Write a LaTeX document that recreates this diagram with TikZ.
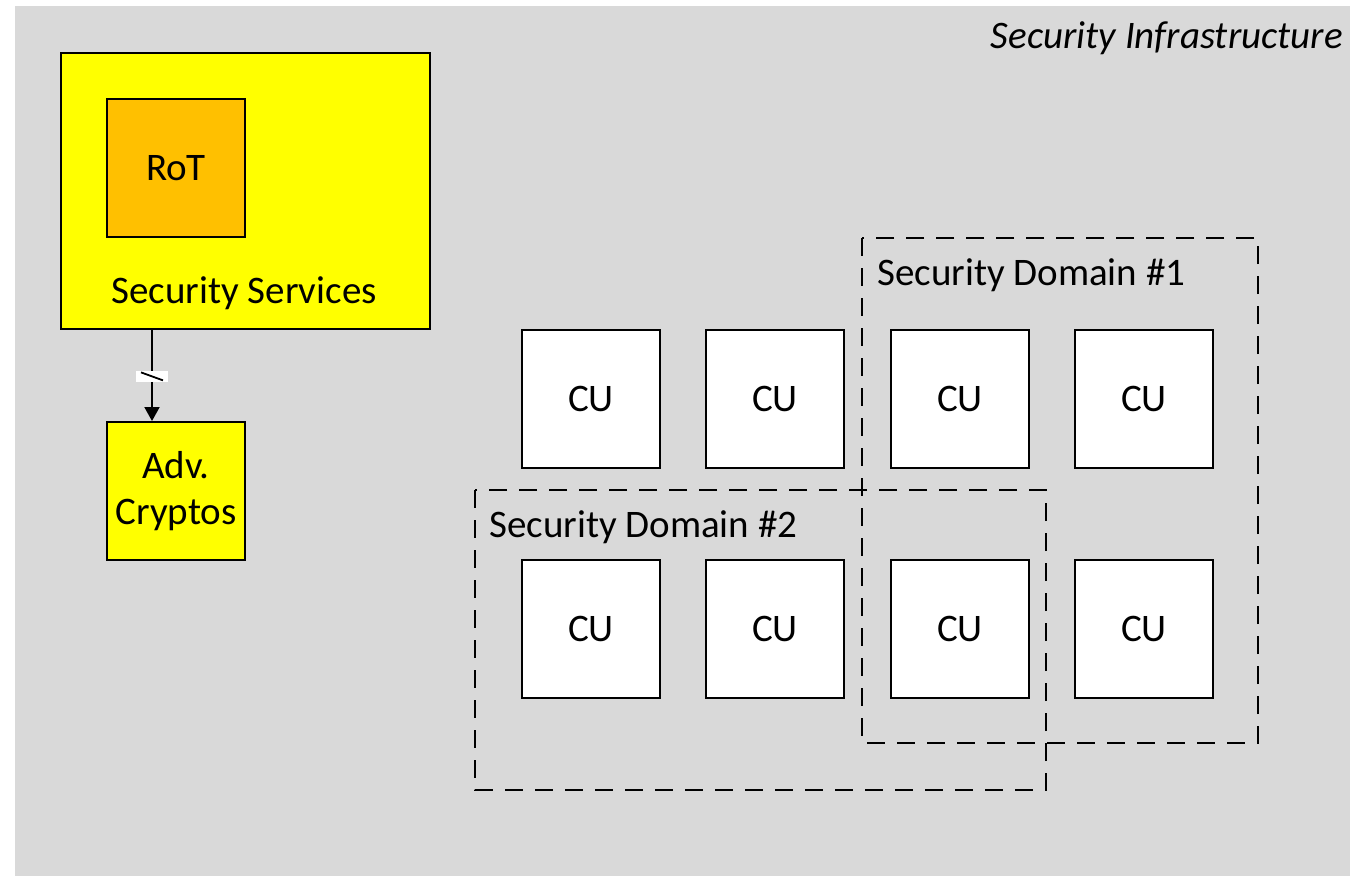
\documentclass[tikz,border=0pt]{standalone}
\usepackage{fontspec}
\setmainfont{Carlito}
\usetikzlibrary{arrows.meta}
\definecolor{panel}{HTML}{D9D9D9}
\definecolor{svcyellow}{HTML}{FFFF00}
\definecolor{rotorange}{HTML}{FFC000}
\begin{document}
\begin{tikzpicture}[x=1pt,y=-1pt,
  box/.style={draw=black,line width=2pt,inner sep=0pt,anchor=north west},
  cu/.style={box,fill=white,minimum width=138pt,minimum height=138pt,font=\fontsize{39}{46}\selectfont},
  secdomain/.style={draw=black,line width=2.2pt,dash pattern=on 18pt off 12pt},
  lbl/.style={font=\fontsize{39}{46}\selectfont,inner sep=0pt}]
\useasboundingbox (0,0) rectangle (1368,876);
\fill[panel] (15,6) rectangle (1350,876);
\node[lbl,anchor=east,font=\fontsize{39}{46}\selectfont\itshape] (infra) at (1343,38) {Security Infrastructure};

% security services block
\node[box,fill=svcyellow,minimum width=369pt,minimum height=276pt] (svc) at (60,52) {};
\node[box,fill=rotorange,minimum width=138pt,minimum height=138pt,font=\fontsize{39}{46}\selectfont] (rot) at (106,98) {RoT};
\node[lbl] (svclbl) at (244,293) {Security Services};
\node[box,fill=svcyellow,minimum width=138pt,minimum height=138pt,align=center,font=\fontsize{39}{46}\selectfont] (adv) at (106,421) {Adv.\\Cryptos};
\coordinate (src) at (152,328);
\draw[line width=2pt,-{Triangle[length=14pt,width=15pt]}] (src) -- (adv.north -| src)
  node[pos=0.52,fill=white,minimum width=32pt,minimum height=11pt,inner sep=0pt] (bus) {};
\draw[line width=1.8pt] ([xshift=-11pt,yshift=4pt]bus.center) -- ([xshift=11pt,yshift=-4pt]bus.center);

% compute units
\node[cu] (cu11) at (521,329) {CU};
\node[cu] (cu12) at (705,329) {CU};
\node[cu] (cu13) at (890,329) {CU};
\node[cu] (cu14) at (1074,329) {CU};
\node[cu] (cu21) at (521,559) {CU};
\node[cu] (cu22) at (705,559) {CU};
\node[cu] (cu23) at (890,559) {CU};
\node[cu] (cu24) at (1074,559) {CU};

% security domains
\draw[secdomain] (862,238) rectangle (1258,743);
\node[lbl,anchor=west] (d1) at (877,275) {Security Domain \#1};
\draw[secdomain] (475,490) rectangle (1046,790);
\node[lbl,anchor=west] (d2) at (489,527) {Security Domain \#2};
\end{tikzpicture}
\end{document}
